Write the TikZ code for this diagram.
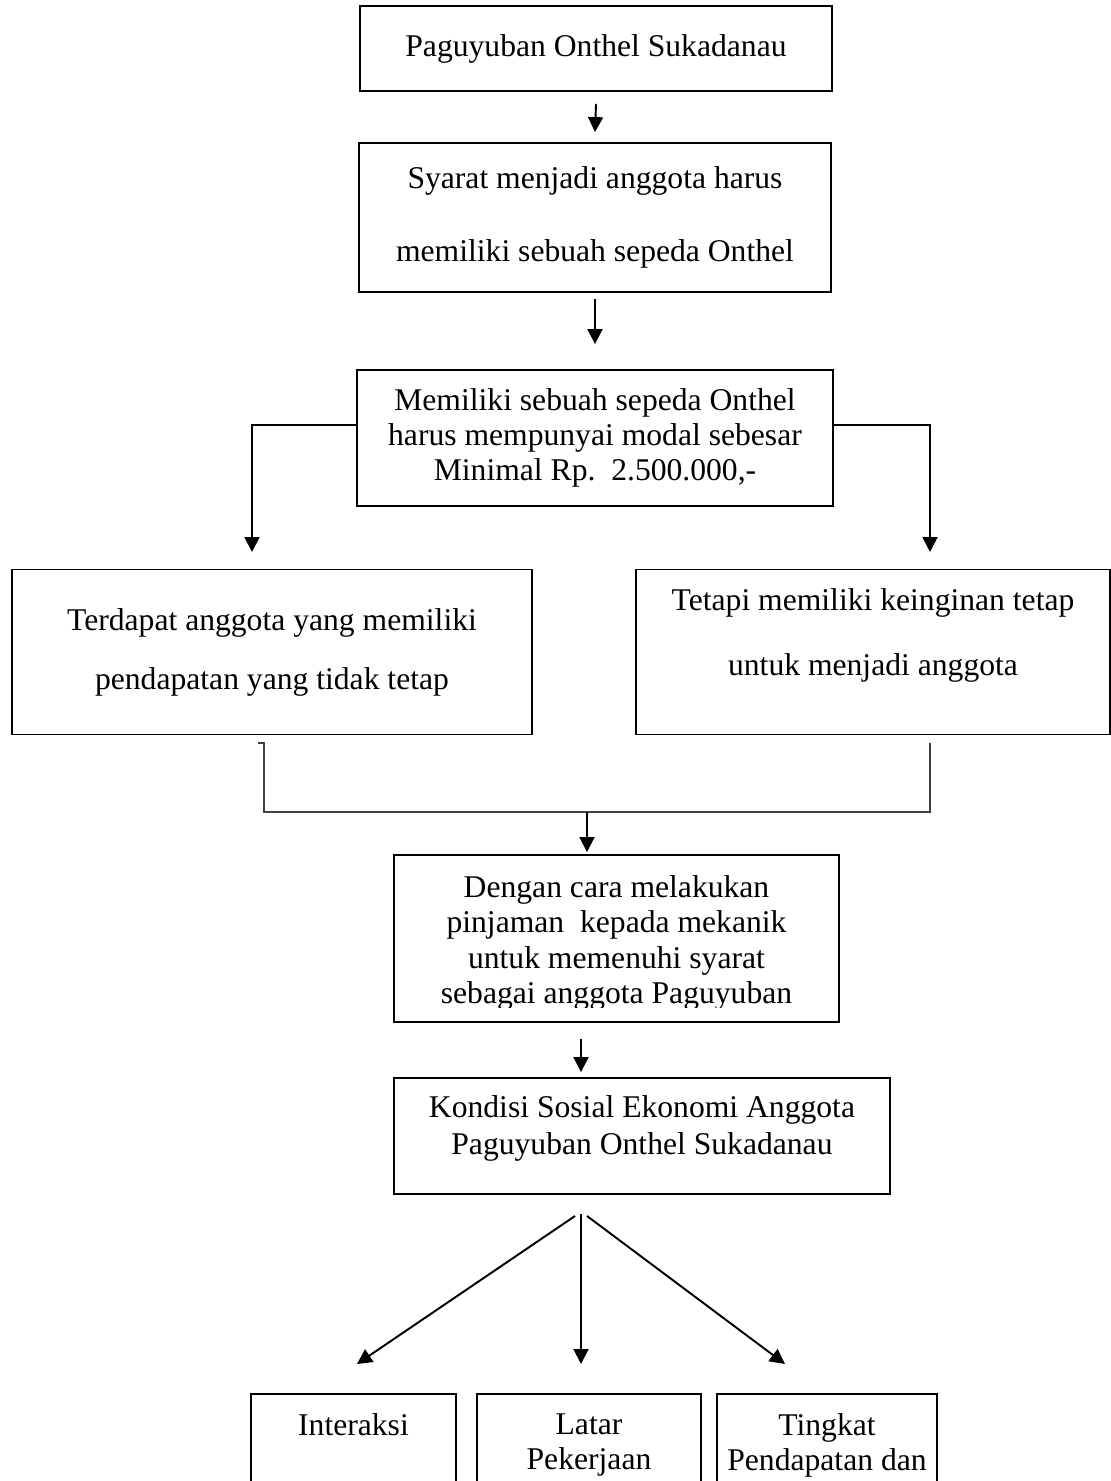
\documentclass[tikz,border=0pt]{standalone}
\usepackage{fontspec}
\setmainfont{Liberation Serif}
\usetikzlibrary{arrows.meta}
\begin{document}
\begin{tikzpicture}[
    x=0.02cm, y=-0.02cm,
    flowbox/.style={rectangle, draw=black, line width=1.1pt, align=center, font=\fontsize{18pt}{19.9pt}\selectfont, inner sep=2pt},
    flowtext/.style={align=center, font=\fontsize{18pt}{20.2pt}\selectfont, inner sep=0pt},
    flowarr/.style={-{Triangle[width=0.3cm,length=0.3cm]}, line width=1.1pt},
    joinline/.style={draw=black!75, line width=0.6pt},
    botbox/.style={flowbox, anchor=north, inner xsep=0pt, inner ysep=0.4cm}
]
\useasboundingbox (0,0) rectangle (1111,1481);

% Top chain
\node[flowbox, minimum width=9.44cm, minimum height=1.7cm] (paguyuban) at (596,48.5) {Paguyuban Onthel Sukadanau};
\node[flowbox, minimum width=9.46cm, minimum height=2.98cm] (syarat) at (595,217.5) {Syarat menjadi anggota harus\\[21.6pt]memiliki sebuah sepeda Onthel};
\node[flowbox, minimum width=9.52cm, minimum height=2.72cm] (modal) at (595,438) {Memiliki sebuah sepeda Onthel\\harus mempunyai modal sebesar\\Minimal Rp.\ \ 2.500.000,-};

% Two branches
\node[flowbox, minimum width=10.4cm, minimum height=3.3cm] (pendapatan) at (272,652) {Terdapat anggota yang memiliki\\[13.7pt]pendapatan yang tidak tetap};
\node[flowbox, minimum width=9.48cm, minimum height=3.3cm] (keinginan) at (873,652) {Tetapi memiliki keinginan tetap\\[17pt]untuk menjadi anggota\\[3pt]\mbox{}};

% Loan box: last line is cut by the text frame
\node[flowbox, minimum width=8.9cm, minimum height=3.34cm] (pinjaman) at (616.5,938.5) {};
\begin{scope}
  \clip (pinjaman.north west) rectangle ([yshift=0.31cm]pinjaman.south east);
  \node[flowtext] (pinjamantext) at (616.5,943) {Dengan cara melakukan\\pinjaman\ \ kepada mekanik\\untuk memenuhi syarat\\sebagai anggota Paguyuban};
\end{scope}
\node[flowbox, font=\fontsize{18pt}{21pt}\selectfont, minimum width=9.92cm, minimum height=2.32cm] (kondisi) at (642,1136) {Kondisi Sosial Ekonomi Anggota\\Paguyuban Onthel Sukadanau\\[-9pt]\mbox{}};

% Bottom aspects (cut off by the page)
\node[botbox] (interaksi) at (353.5,1393) {\parbox[t][3cm][t]{4.1cm}{\centering Interaksi}};
\node[botbox] (pekerjaan) at (589,1393) {\parbox[t][3cm][t]{4.48cm}{\centering Latar\\Pekerjaan}};
\node[botbox] (tingkat) at (827,1393) {\parbox[t][3cm][t]{4.4cm}{\centering Tingkat\\Pendapatan dan}};

% Helper points
\coordinate (lefttip) at (252,552);
\coordinate (righttip) at (930,552);
\coordinate (jl) at (264,743);
\coordinate (jr) at (930,743);
\coordinate (jm) at (587,812);
\coordinate (fan) at (581,1214);
\coordinate (tipa) at (357,1364);
\coordinate (tipb) at (581,1364);
\coordinate (tipc) at (785,1364);

% Arrows
\draw[flowarr] ([yshift=-0.24cm]paguyuban.south) -- ([yshift=0.2cm]syarat.north);
\draw[flowarr] ([yshift=-0.12cm]syarat.south) -- ([yshift=0.5cm]modal.north);
\draw[flowarr] ([yshift=0.26cm]modal.west) -| (lefttip);
\draw[flowarr] ([yshift=0.26cm]modal.east) -| (righttip);
\draw[joinline] ([xshift=-0.12cm]jl) -- (jl) |- (jr |- jm) -- (jr);
\draw[flowarr] (jm) -- ([yshift=0.04cm]pinjaman.north -| jm);
\draw[flowarr] ([yshift=-0.32cm]pinjaman.south -| tipb) -- ([yshift=0.1cm]kondisi.north -| tipb);
\draw[flowarr] ([xshift=-0.12cm,yshift=-0.04cm]fan) -- (tipa);
\draw[flowarr] (fan) -- (tipb);
\draw[flowarr] ([xshift=0.12cm,yshift=-0.04cm]fan) -- (tipc);

\end{tikzpicture}
\end{document}
